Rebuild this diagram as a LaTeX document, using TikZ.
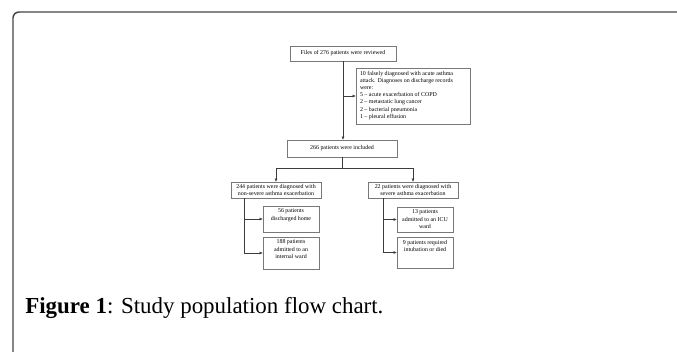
\documentclass[tikz,border=0pt]{standalone}
\usepackage{fontspec}
\setmainfont{Liberation Serif}
\usetikzlibrary{arrows.meta}
\definecolor{framec}{RGB}{70,70,70}
\definecolor{boxc}{RGB}{120,120,120}
\definecolor{linec}{RGB}{60,60,60}
\newcommand\bx[4]{\parbox[c][\dimexpr #2pt*3/4\relax][#3]{\dimexpr #1pt*3/4\relax}{\centering #4}}
\begin{document}
\begin{tikzpicture}[x=0.75pt,y=-0.75pt,
  box/.style={draw=boxc, line width=0.45pt, inner sep=0pt, outer sep=0pt, fill=white,
    font=\fontsize{4.45}{5.4}\selectfont},
  conn/.style={draw=linec, line width=0.45pt},
  arr/.style={conn, -{Latex[length=2.6pt,width=2.2pt]}}]
\useasboundingbox (0,0) rectangle (677,351);
\fill[white] (0,0) rectangle (677,351);
% frame
\draw[framec, line width=1.1pt, rounded corners=4.5pt] (13,352) -- (13,12) -- (678,12);

% boxes
\node[box] (a) at (343,53.5) {\bx{106}{15}{c}{Files of 276 patients were reviewed}};
\node[box] (b) at (413,96) {\parbox[c][42pt][t]{85.5pt}{\raggedright\vspace*{2.2pt}\leftskip=3pt
10 falsely diagnosed with acute asthma\\
attack. Diagnoses on discharge records\\
were:\\
5 -- acute exacerbation of COPD\\
2 -- metastatic lung cancer\\
2 -- bacterial pneumonia\\
1 -- pleural effusion}};
\node[box] (c) at (342,148.5) {\bx{110}{17}{c}{266 patients were included}};
\node[box] (d) at (276,190) {\bx{90}{16}{c}{244 patients were diagnosed with\\ non-severe asthma exacerbation}};
\node[box] (e) at (413,190) {\bx{90}{16}{c}{22 patients were diagnosed with\\ severe asthma exacerbation}};
\node[box] (f) at (291,219) {\bx{56}{26}{t}{\vspace*{2.2pt}56 patients\\ discharged home}};
\node[box] (g) at (291,253) {\bx{56}{32}{t}{\vspace*{2.2pt}188 patients\\ admitted to an\\ internal ward}};
\node[box] (h) at (425,219.5) {\bx{56}{25}{t}{\vspace*{2.2pt}13 patients\\ admitted to an ICU\\ ward}};
\node[box] (i) at (425,252.5) {\bx{56}{31}{t}{\vspace*{2.2pt}9 patients required\\ intubation or died}};

% connectors
\draw[arr] (a.south) -- (a.south |- c.north);
\draw[arr] (a.south |- b.west) -- (b.west);
\coordinate (split) at (342,168);
\draw[conn] (c.south) -- (split);
\draw[arr] (split) -| (d.north);
\draw[arr] (split) -| (e.north);
\coordinate (lb) at (244,198);
\draw[arr] (lb) |- (g.west);
\draw[arr] (lb |- f.west) -- (f.west);
\coordinate (rb) at (383,198);
\draw[arr] (rb) |- (i.west);
\draw[arr] (rb |- h.west) -- (h.west);

% caption
\node[anchor=base west, inner sep=0pt, font=\fontsize{17.2}{20}\selectfont] (cap) at (25,313)
  {\textbf{Figure 1}: Study population flow chart.};
\end{tikzpicture}
\end{document}
